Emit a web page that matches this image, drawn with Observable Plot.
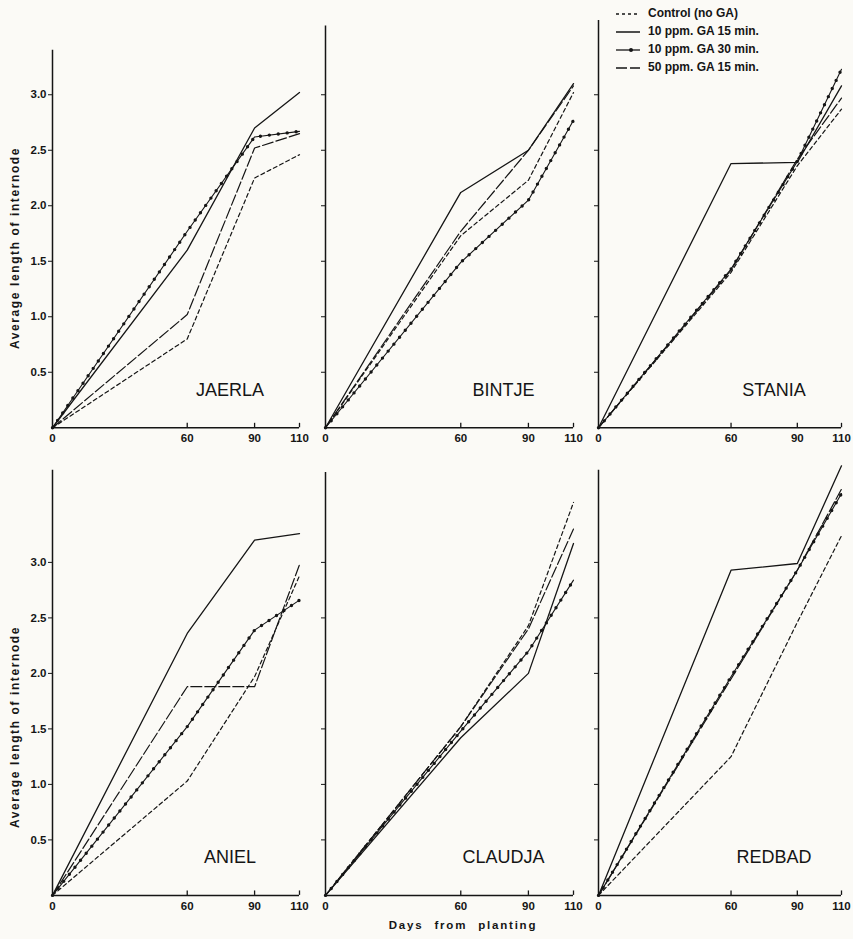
<!DOCTYPE html>
<html>
<head>
<meta charset="utf-8">
<script src="https://cdn.jsdelivr.net/npm/d3@7"></script>
<script src="https://cdn.jsdelivr.net/npm/@observablehq/plot@0.6"></script>
<style>
  html, body { margin: 0; padding: 0; background: #fbfaf6; }
  #page { position: relative; width: 853px; height: 939px; overflow: hidden; font-family: "Liberation Sans", Arial, sans-serif; color: #151515; }
  .panel { position: absolute; }
  .ytitle { position: absolute; transform: translate(-50%, -50%) rotate(-90deg); white-space: nowrap; font-weight: bold; font-size: 12px; letter-spacing: 1.6px; }
  #xtitle { position: absolute; left: 463px; top: 925px; transform: translate(-50%, -50%); white-space: nowrap; font-weight: bold; font-size: 11.5px; letter-spacing: 1.8px; word-spacing: 6px; }
  #legend { position: absolute; left: 614px; top: 4px; font-size: 12px; font-weight: 600; }
  #legend .row { display: flex; align-items: center; height: 18px; }
  #legend svg { margin-right: 6px; }
</style>
</head>
<body>
<div id="page">
  <div class="ytitle" style="left:15px; top:248px;">Average length of internode</div>
  <div class="ytitle" style="left:15px; top:727px;">Average length of internode</div>
  <div id="xtitle">Days from planting</div>
  <div id="legend"></div>
</div>
<script>
// ---- data ----
const varieties = ["JAERLA", "BINTJE", "STANIA", "ANIEL", "CLAUDJA", "REDBAD"];
const days = [0, 60, 90, 110];
const xTicks = [0, 60, 90, 110];
const yTicks = [0.5, 1.0, 1.5, 2.0, 2.5, 3.0];
const seriesNames = ["Control (no GA)", "10 ppm. GA 15 min.", "10 ppm. GA 30 min.", "50 ppm. GA 15 min."];

// rows follow varieties, columns follow days
const control = [
  [0, 0.80, 2.25, 2.46],
  [0, 1.73, 2.23, 3.02],
  [0, 1.40, 2.36, 2.87],
  [0, 1.03, 1.97, 2.88],
  [0, 1.52, 2.43, 3.54],
  [0, 1.25, 2.46, 3.24]
];
const ga10ppm15min = [
  [0, 1.60, 2.70, 3.02],
  [0, 2.12, 2.50, 3.10],
  [0, 2.38, 2.39, 3.08],
  [0, 2.36, 3.20, 3.26],
  [0, 1.42, 2.00, 3.17],
  [0, 2.93, 2.99, 3.87]
];
const ga10ppm30min = [
  [0, 1.77, 2.62, 2.67],
  [0, 1.49, 2.05, 2.77],
  [0, 1.43, 2.40, 3.23],
  [0, 1.52, 2.39, 2.66],
  [0, 1.48, 2.20, 2.84],
  [0, 1.97, 2.93, 3.62]
];
const ga50ppm15min = [
  [0, 1.02, 2.52, 2.65],
  [0, 1.77, 2.50, 3.08],
  [0, 1.42, 2.42, 2.97],
  [0, 1.88, 1.88, 2.98],
  [0, 1.52, 2.40, 3.30],
  [0, 1.95, 2.93, 3.66]
];
// top of each drawn y axis line (value units)
const axisTop = [3.40, 3.62, 3.67, 3.83, 3.81, 3.83];

// ---- layout ----
const ink = "#151515";
const colX0 = [52, 325, 598];
const colW = [247, 248, 243];
const rowY0 = [427, 895];
const rowYMax = [3.75, 3.9];
const pxPerUnit = 111;
const mL = 42, mT = 8, mB = 26;

const styles = [
  {dash: "4,3", width: 1.2},
  {dash: null, width: 1.3},
  {dash: null, width: 1.1, dots: true},
  {dash: "11,3", width: 1.2}
];
const allSeries = [control, ga10ppm15min, ga10ppm30min, ga50ppm15min];

const page = document.getElementById("page");

varieties.forEach((name, i) => {
  const row = Math.floor(i / 3), col = i % 3;
  const plotH = rowYMax[row] * pxPerUnit;
  const mR = 853 - colX0[2] - colW[2];
  const width = mL + colW[col] + mR;
  const height = mT + plotH + mB;

  const marks = [
    Plot.ruleX([0], {y1: 0, y2: axisTop[i], stroke: ink, strokeWidth: 1.5}),
    Plot.ruleY([0], {x1: 0, x2: 110, stroke: ink, strokeWidth: 1.5}),
    Plot.ruleX(xTicks.slice(1), {y1: 0, y2: 0.04, stroke: ink, strokeWidth: 1.3}),
    Plot.axisY(yTicks, {
      tickSize: 4, tickPadding: 2, stroke: ink,
      tickFormat: col === 0 ? (d => d.toFixed(1)) : (() => ""),
      label: null, fontSize: 11.5, fontWeight: "bold", fill: ink
    }),
    Plot.axisX(xTicks, {
      tickSize: 0, tickPadding: 6, label: null,
      tickFormat: d => String(d), fontSize: 11.5, fontWeight: "bold", fill: ink
    })
  ];

  allSeries.forEach((s, k) => {
    const data = days.map((d, j) => ({day: d, value: s[i][j]}));
    const st = styles[k];
    marks.push(Plot.line(data, {
      x: "day", y: "value", stroke: ink, strokeWidth: st.width,
      strokeDasharray: st.dash || undefined, strokeLinejoin: "round"
    }));
    if (st.dots) {
      marks.push(Plot.line(data, {
        x: "day", y: "value", stroke: ink, strokeWidth: 3.4,
        strokeDasharray: "0,9", strokeLinecap: "round"
      }));
    }
  });

  marks.push(Plot.text([name], {
    frameAnchor: "bottom", lineAnchor: "middle", dx: 54, dy: -38,
    text: d => d, fontSize: 18, fill: ink
  }));

  const svg = Plot.plot({
    width, height,
    marginLeft: mL, marginRight: mR, marginTop: mT, marginBottom: mB,
    x: {domain: [0, 110], axis: null},
    y: {domain: [0, rowYMax[row]], axis: null},
    style: {background: "transparent", fontFamily: "Liberation Sans, Arial, sans-serif", overflow: "visible"},
    marks
  });
  svg.classList.add("panel");
  svg.style.left = (colX0[col] - mL) + "px";
  svg.style.top = (rowY0[row] - plotH - mT) + "px";
  page.appendChild(svg);
});

// ---- legend ----
const legend = document.getElementById("legend");
seriesNames.forEach((label, k) => {
  const st = styles[k];
  const rowDiv = document.createElement("div");
  rowDiv.className = "row";
  const ns = "http://www.w3.org/2000/svg";
  const sw = document.createElementNS(ns, "svg");
  sw.setAttribute("width", 28); sw.setAttribute("height", 10);
  const ln = document.createElementNS(ns, "line");
  ln.setAttribute("x1", 2); ln.setAttribute("x2", 26);
  ln.setAttribute("y1", 6); ln.setAttribute("y2", 6);
  ln.setAttribute("stroke", ink); ln.setAttribute("stroke-width", st.width + 0.2);
  if (st.dash) ln.setAttribute("stroke-dasharray", k === 0 ? "3,3" : st.dash);
  sw.appendChild(ln);
  if (st.dots) {
    const c = document.createElementNS(ns, "circle");
    c.setAttribute("cx", 17); c.setAttribute("cy", 6); c.setAttribute("r", 2);
    c.setAttribute("fill", ink);
    sw.appendChild(c);
  }
  rowDiv.appendChild(sw);
  const t = document.createElement("span");
  t.textContent = label;
  rowDiv.appendChild(t);
  legend.appendChild(rowDiv);
});
</script>
</body>
</html>
